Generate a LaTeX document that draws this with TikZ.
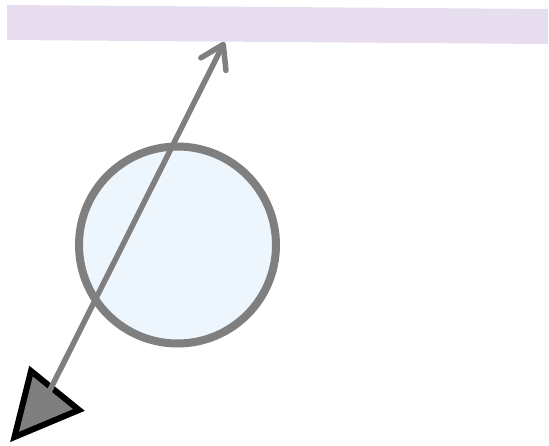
\documentclass[tikz,border=0pt]{standalone}
\usepackage{xcolor}
\usepackage{tikz}
\usetikzlibrary{arrows.meta, positioning, shapes.geometric}

\definecolor{bandlilac}{HTML}{E6DEEF}
\definecolor{diskblue}{HTML}{EEF6FD}
\definecolor{rimgray}{HTML}{7F7F7F}

\begin{document}
\begin{tikzpicture}[
      x=1pt, y=1pt,
      band/.style={fill=bandlilac, draw=none},
      disk/.style={circle, draw=rimgray, fill=diskblue, line width=8pt, minimum size=197pt, inner sep=0pt},
      pointer/.style={draw=rimgray, line width=5.5pt, line cap=round,
                      -{Straight Barb[length=22pt, width=28pt, line cap=round, line join=round]}},
      marker/.style={fill=rimgray, draw=black, line width=6pt, line join=miter}
    ]
      \useasboundingbox (0,0) rectangle (549,445);
      % surface at the top
      \fill[band] (7,440) -- (548,436) -- (548,401) -- (7,405) -- cycle;
      % ball
      \node[disk] (ball) at (177.5,200) {};
      % source triangle
      \draw[marker] (31,74) -- (79,35) -- (14.5,8) -- cycle;
      \coordinate (src) at (42,39);
      \coordinate (hit) at (224.5,403);
      \draw[pointer] (src) -- (hit);
    \end{tikzpicture}
\end{document}
